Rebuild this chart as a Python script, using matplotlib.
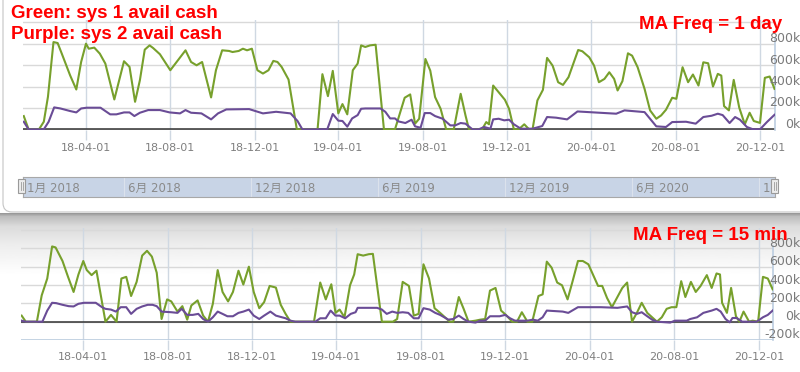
import numpy as np
import pandas as pd
import matplotlib
matplotlib.use("Agg")
import matplotlib.pyplot as plt
import matplotlib.transforms as mtransforms
from matplotlib.patches import FancyBboxPatch, Rectangle

plt.rcParams['font.family'] = ['DejaVu Sans', 'Noto Sans CJK JP']

START = pd.Timestamp("2018-01-01")

# x values are days since 2018-01-01, y values in k

# top chart, MA freq = 1 day
top_green_days = [0, 7, 22, 29, 35, 43, 49, 55, 67, 76, 83, 90, 94, 102, 110, 118, 131, 145, 153, 161,
                  168, 175, 182, 187, 197, 212, 220, 234, 242, 250, 258, 271, 278, 287, 297, 302, 311, 317,
                  323, 330, 338, 346, 354, 361, 367, 373, 383, 395, 425, 432, 440, 447, 455, 461, 468, 476,
                  483, 488, 494, 501, 509, 521, 537, 551, 559, 566, 572, 581, 588, 595, 603, 611, 622, 632,
                  639, 644, 663, 669, 673, 679, 687, 696, 702, 709, 716, 724, 731, 736, 743, 751, 757, 765,
                  773, 780, 788, 802, 808, 818, 825, 832, 840, 847, 854, 859, 866, 874, 880, 888, 898, 906,
                  915, 922, 929, 938, 944, 953, 961, 968, 976, 983, 990, 997, 1004, 1009, 1013, 1020, 1027,
                  1035, 1043, 1050, 1056, 1065, 1072, 1079, 1086]
top_green_k = [124, 0, 0, 71, 304, 815, 806, 707, 505, 372, 629, 800, 753, 763, 707, 614, 279, 636, 583, 257,
               459, 744, 784, 760, 701, 552, 620, 738, 629, 598, 629, 298, 552, 738, 732, 722, 732, 753,
               738, 753, 552, 521, 552, 639, 629, 583, 465, 0, 0, 515, 310, 546, 149, 236, 140, 552,
               614, 784, 769, 784, 790, 0, 0, 295, 326, 53, 99, 657, 549, 301, 192, 0, 0, 332,
               130, 0, 0, 68, 47, 409, 347, 276, 192, 0, 0, 47, 0, 0, 270, 369, 667, 595,
               440, 415, 487, 741, 729, 673, 595, 440, 471, 533, 471, 363, 450, 710, 688, 580, 378, 177,
               99, 130, 183, 295, 285, 580, 440, 512, 409, 626, 617, 400, 518, 502, 217, 177, 462,
               202, 47, 155, 78, 60, 481, 493, 378]

top_purple_days = [0, 7, 29, 36, 44, 53, 67, 76, 83, 91, 111, 125, 134, 145, 153, 160, 168, 180, 197, 211,
                   226, 234, 242, 257, 271, 281, 293, 326, 346, 365, 386, 396, 403, 439, 447, 455, 461, 468,
                   475, 483, 488, 494, 516, 523, 530, 537, 542, 552, 561, 566, 574, 580, 588, 595, 606, 617,
                   624, 632, 639, 649, 658, 666, 675, 679, 687, 695, 702, 709, 719, 736, 750, 757, 770, 786,
                   801, 833, 857, 869, 898, 915, 929, 938, 958, 972, 983, 995, 1004, 1011, 1021, 1029, 1036,
                   1046, 1055, 1065, 1075, 1086]
top_purple_k = [71, 0, 0, 71, 205, 195, 171, 158, 195, 202, 202, 140, 140, 158, 158, 124, 155, 180, 180, 158,
                149, 180, 155, 149, 93, 149, 186, 189, 149, 164, 149, 78, 0, 0, 143, 81, 78, 25,
                102, 133, 192, 195, 195, 164, 102, 102, 74, 59, 90, 28, 15, 152, 152, 124, 99, 37,
                37, 59, 53, 0, 0, 22, 6, 93, 99, 84, 90, 47, 6, 6, 31, 115, 109, 93,
                167, 155, 146, 177, 161, 28, 22, 68, 71, 53, 115, 127, 146, 133, 59, 115, 90,
                22, 0, 0, 68, 136]

# bottom chart, MA freq = 15 min
bot_green_days = [1, 7, 23, 30, 38, 45, 50, 60, 68, 76, 83, 90, 95, 102, 109, 122, 130, 138, 145, 152,
                  159, 167, 175, 182, 189, 196, 203, 211, 217, 226, 233, 240, 246, 255, 263, 270, 277, 284,
                  291, 299, 306, 314, 321, 329, 336, 344, 351, 359, 368, 375, 382, 389, 423, 432, 440, 448,
                  454, 460, 467, 475, 481, 486, 494, 502, 508, 521, 537, 543, 551, 560, 567, 574, 581, 589,
                  597, 605, 612, 619, 624, 632, 639, 646, 656, 663, 670, 677, 685, 693, 700, 709, 716, 723,
                  731, 738, 747, 753, 759, 766, 774, 781, 789, 796, 804, 811, 819, 826, 833, 839, 846, 853,
                  861, 868, 875, 882, 889, 896, 904, 911, 918, 925, 932, 939, 946, 953, 959, 967, 974, 981,
                  990, 997, 1004, 1009, 1012, 1019, 1025, 1032, 1037, 1043, 1051, 1056, 1064, 1071, 1078, 1085]
bot_green_k = [66, 0, 0, 287, 471, 821, 810, 662, 489, 324, 515, 662, 563, 508, 556, 0, 74, 0, 471, 489,
               280, 434, 721, 773, 710, 534, 29, 243, 221, 110, 169, 22, 177, 232, 66, 0, 195, 563,
               324, 221, 324, 556, 405, 600, 324, 147, 213, 390, 372, 184, 85, 0, 0, 427, 243, 408,
               96, 132, 48, 397, 515, 736, 721, 736, 740, 0, 0, 29, 434, 390, 66, 85, 626, 471,
               147, 96, 48, 0, 0, 269, 140, 0, 11, 22, 29, 339, 368, 121, 74, 0, 0, 103,
               0, 0, 280, 298, 655, 589, 427, 397, 243, 434, 662, 662, 626, 508, 390, 390, 258, 158,
               269, 368, 427, 0, 96, 206, 96, 48, 0, 48, 140, 158, 158, 442, 269, 434, 324, 390,
               508, 368, 526, 515, 206, 96, 368, 59, 0, 110, 0, 11, 0, 489, 471, 353]

bot_purple_days = [1, 7, 31, 38, 45, 51, 60, 69, 76, 83, 91, 108, 117, 122, 130, 137, 144, 152, 159, 167,
                   175, 183, 190, 196, 203, 217, 226, 232, 240, 248, 256, 263, 270, 277, 284, 291, 298, 306,
                   314, 321, 329, 336, 344, 351, 360, 368, 382, 389, 396, 425, 432, 440, 447, 454, 460, 468,
                   476, 483, 486, 514, 521, 528, 536, 543, 551, 559, 567, 574, 581, 590, 598, 605, 617, 624,
                   632, 639, 646, 656, 663, 670, 677, 691, 699, 706, 713, 721, 731, 739, 746, 753, 759, 782,
                   790, 804, 837, 861, 875, 882, 889, 896, 904, 911, 918, 937, 944, 961, 966, 976, 985, 997,
                   1004, 1010, 1017, 1023, 1027, 1033, 1041, 1062, 1071, 1078, 1085]
bot_purple_k = [11, 0, 0, 121, 206, 202, 184, 169, 166, 195, 206, 206, 158, 140, 132, 110, 158, 158, 85, 140,
                166, 184, 184, 169, 110, 103, 96, 140, 74, 74, 85, 29, 0, 48, 110, 85, 59, 59,
                96, 110, 132, 66, 29, 66, 110, 66, 37, 11, 0, 0, 37, 37, 121, 66, 66, 37,
                85, 103, 151, 151, 132, 85, 110, 96, 103, 96, 37, 37, 147, 132, 96, 74, 22, 29,
                66, 29, 0, -10, 11, 11, 59, 59, 74, 37, 11, 11, 11, 22, 11, 48, 121, 110,
                96, 158, 158, 151, 166, 103, 85, 103, 59, 22, 0, -10, 11, 11, 29, 48, 96, 121,
                140, 110, 29, -7, 40, 40, 0, 0, 48, 74, 121]

tick_dates = ["2018-04-01", "2018-08-01", "2018-12-01", "2019-04-01", "2019-08-01",
              "2019-12-01", "2020-04-01", "2020-08-01", "2020-12-01"]
y_ticks_top = [0, 200, 400, 600, 800]
y_ticks_bot = [-200, 0, 200, 400, 600, 800]
nav_months = ["2018-06-01", "2018-12-01", "2019-06-01", "2019-12-01", "2020-06-01", "2020-12-01"]
nav_labels = ["6月 2018", "12月 2018", "6月 2019", "12月 2019", "6月 2020", "12月 2020"]

GREEN = "#77a02c"
PURPLE = "#6a4c96"
GRID = "#d9d9d9"
VGRID = "#cfd8e2"
AXIS_BLUE = "#bccde0"
TICK_GREY = "#808080"

W, H = 800, 372
fig = plt.figure(figsize=(W / 100, H / 100), dpi=100)


def box(left, top, right, bottom):
    return [left / W, 1 - bottom / H, (right - left) / W, (bottom - top) / H]


def to_dates(days):
    return START + pd.to_timedelta(np.asarray(days, dtype=float), unit="D")


# background: card on top, grey shadow fading below it
bg = fig.add_axes([0, 0, 1, 1], zorder=-10)
bg.set_xlim(0, W)
bg.set_ylim(H, 0)
bg.axis("off")
shade = np.interp(np.arange(H), [0, 212, 213, 216, 226, 245, 275, H],
                  [1, 1, 0.6, 0.74, 0.86, 0.93, 1, 1])
bg.imshow(shade[:, None], extent=(0, W, H, 0), cmap="gray", vmin=0, vmax=1,
          aspect="auto", interpolation="bilinear")
bg.add_patch(FancyBboxPatch((3, -30), 840, 242, boxstyle="round,pad=0,rounding_size=9",
                            fc="white", ec="#c4c4c4", lw=0.8))


def draw_chart(ax, green_d, green_v, purple_d, purple_v, xlim, ylim, yticks, bottom_line):
    ax.set_facecolor("none")
    ax.set_xlim(to_dates([xlim[0]])[0], to_dates([xlim[1]])[0])
    ax.set_ylim(*ylim)
    for s in ax.spines.values():
        s.set_visible(False)
    for v in range(yticks[0], 1001, 200):
        ax.axhline(v, color=GRID, lw=1, zorder=0)
    ticks = pd.to_datetime(tick_dates)
    for t in ticks:
        ax.axvline(t, color=VGRID, lw=1, zorder=0)
    ax.set_xticks(ticks)
    ax.set_xticklabels([t.strftime("%y-%m-%d") for t in ticks], fontsize=8, color=TICK_GREY)
    ax.tick_params(axis="x", length=7, color=VGRID, width=1, pad=2)
    ax.set_yticks([])
    if bottom_line:
        ax.axhline(ylim[0], color=AXIS_BLUE, lw=1.2, zorder=1)
    ax.axhline(0, color="#333333", lw=1.1, zorder=1.5)
    ax.plot([1, 1], [0, 0.84], transform=ax.transAxes, color=AXIS_BLUE, lw=1.2, clip_on=False)
    ax.plot(to_dates(green_d), green_v, color=GREEN, lw=1.5, zorder=3)
    ax.plot(to_dates(purple_d), purple_v, color=PURPLE, lw=1.5, zorder=4)
    trans = mtransforms.blended_transform_factory(fig.transFigure, ax.transData)
    trans = mtransforms.offset_copy(trans, fig=fig, x=0, y=5, units="dots")
    for v in yticks:
        ax.text(800 / W, v, f"{v}k", transform=trans, ha="right", va="center",
                fontsize=9, color="#7a7a7a", zorder=6, clip_on=False)


ax1 = fig.add_axes(box(23, 20, 775, 130.2))
draw_chart(ax1, top_green_days, top_green_k, top_purple_days, top_purple_k,
           (-1.1, 1086.7), (-8, 1021), y_ticks_top, False)

ax2 = fig.add_axes(box(21, 228, 773, 340))
draw_chart(ax2, bot_green_days, bot_green_k, bot_purple_days, bot_purple_k,
           (0.1, 1085.5), (-200, 1022), y_ticks_bot, True)

# range navigator under the top chart
nav = fig.add_axes(box(23, 177, 775, 197))
nav.set_facecolor("#c8d4e6")
nav.set_xlim(to_dates([5.6])[0], to_dates([1088])[0])
nav.set_ylim(0, 1)
nav.set_xticks([])
nav.set_yticks([])
for s in nav.spines.values():
    s.set_color("#a8a8a8")
    s.set_linewidth(0.8)
nav_trans = mtransforms.offset_copy(nav.transData, fig=fig, x=4, y=0, units="dots")
for m, lab in zip(pd.to_datetime(nav_months), nav_labels):
    nav.axvline(m, color="#dbe2ec", lw=0.8)
    nav.text(m, 0.42, lab, transform=nav_trans, ha="left", va="center",
             fontsize=8.5, color="#8a8a8a", clip_on=True)
nav.text(4 / 752, 0.42, "1月 2018", transform=nav.transAxes, ha="left", va="center",
         fontsize=8.5, color="#8a8a8a", clip_on=True)

over = fig.add_axes([0, 0, 1, 1], zorder=10)
over.set_xlim(0, W)
over.set_ylim(H, 0)
over.axis("off")
for hx in (18, 771):
    over.add_patch(Rectangle((hx, 179), 7, 14, fc="#ececec", ec="#9a9a9a", lw=0.8))
    over.plot([hx + 2.5, hx + 2.5], [182, 190], color="#9a9a9a", lw=0.6)
    over.plot([hx + 4.5, hx + 4.5], [182, 190], color="#9a9a9a", lw=0.6)

red_font = dict(color="#ff0000", fontsize=13.5, fontweight="bold",
                family=["Liberation Sans", "DejaVu Sans"], va="baseline", ha="left")
over.text(11, 18.3, "Green: sys 1 avail cash", **red_font)
over.text(11, 39.3, "Purple: sys 2 avail cash", **red_font)
over.text(639, 29.3, "MA Freq = 1 day", **red_font)
over.text(633, 240, "MA Freq = 15 min", **red_font)

fig.savefig("out.png", dpi=100)
